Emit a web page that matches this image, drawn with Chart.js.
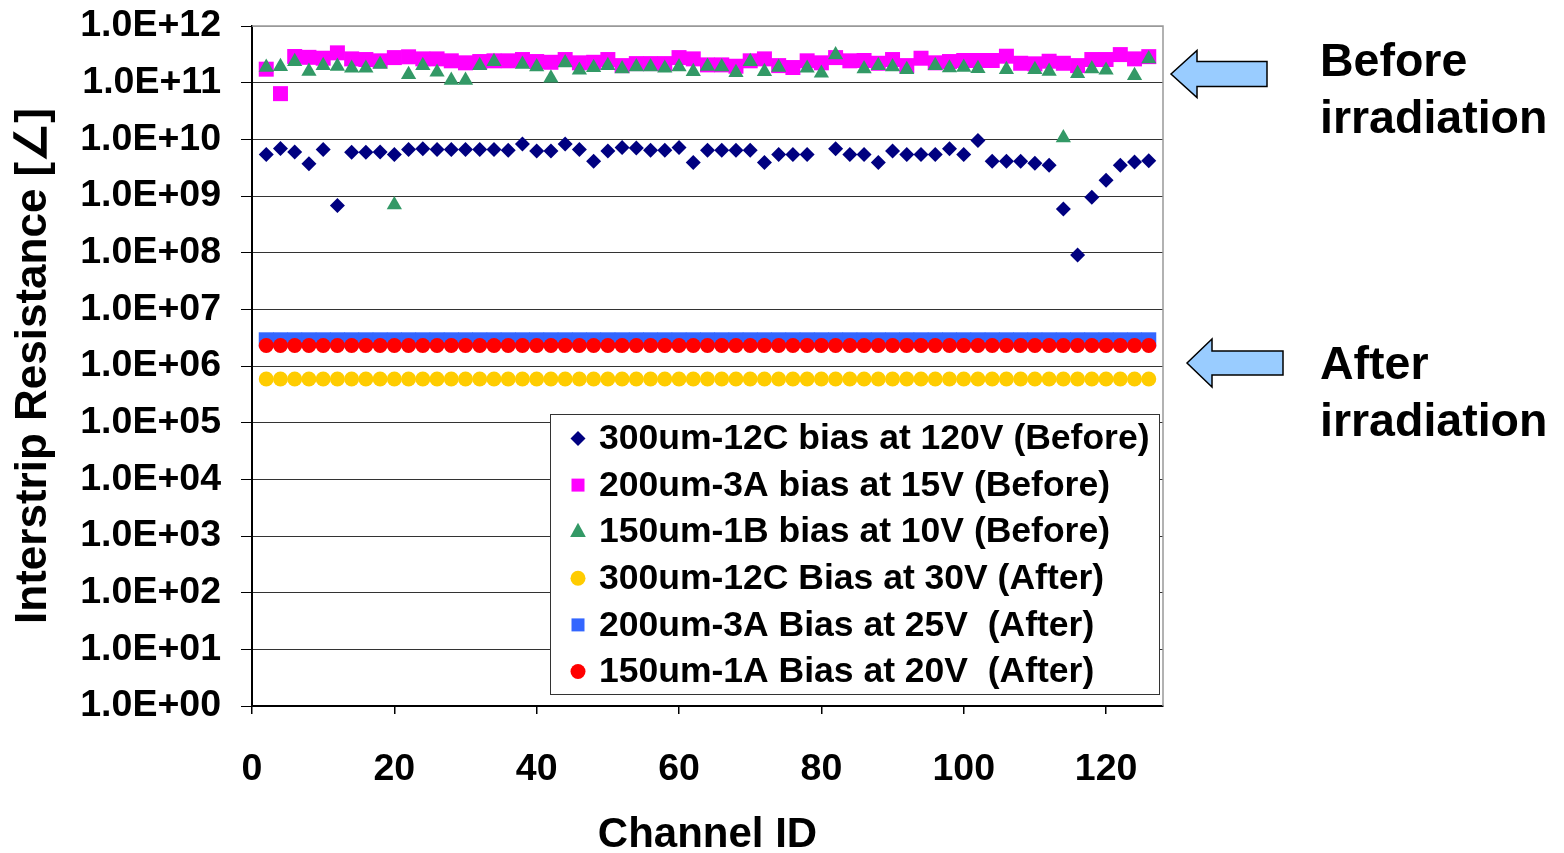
<!DOCTYPE html>
<html>
<head>
<meta charset="utf-8">
<title>Interstrip Resistance</title>
<script src="https://cdn.jsdelivr.net/npm/chart.js@4.4.1/dist/chart.umd.min.js"></script>
<style>
  html, body { margin: 0; padding: 0; background: #fff; }
  #wrap { width: 1564px; height: 853px; }
</style>
</head>
<body>
<div id="wrap"><canvas id="irChart" width="1564" height="853"></canvas></div>
<script>
// Interstrip resistance per channel, before and after irradiation

const channels = [
  2, 4, 6, 8, 10, 12, 14, 16, 18, 20,
  22, 24, 26, 28, 30, 32, 34, 36, 38, 40,
  42, 44, 46, 48, 50, 52, 54, 56, 58, 60,
  62, 64, 66, 68, 70, 72, 74, 76, 78, 80,
  82, 84, 86, 88, 90, 92, 94, 96, 98, 100,
  102, 104, 106, 108, 110, 112, 114, 116, 118, 120,
  122, 124, 126
];

// 300um-12C bias at 120V (Before)
const before300 = [
  5.4e9, 6.9e9, 6.0e9, 3.7e9, 6.6e9, 6.8e8, 5.9e9, 5.9e9, 6.0e9, 5.4e9,
  6.6e9, 6.8e9, 6.6e9, 6.6e9, 6.6e9, 6.6e9, 6.6e9, 6.4e9, 8.3e9, 6.2e9,
  6.2e9, 8.3e9, 6.6e9, 4.1e9, 6.2e9, 7.2e9, 7.0e9, 6.4e9, 6.4e9, 7.2e9,
  3.9e9, 6.4e9, 6.4e9, 6.4e9, 6.4e9, 3.9e9, 5.4e9, 5.4e9, 5.4e9, null,
  6.8e9, 5.4e9, 5.4e9, 3.9e9, 6.2e9, 5.4e9, 5.4e9, 5.4e9, 6.8e9, 5.4e9,
  9.5e9, 4.1e9, 4.1e9, 4.1e9, 3.8e9, 3.5e9, 5.9e8, 9.1e7, 9.5e8, 1.9e9,
  3.5e9, 4.0e9, 4.2e9
];

// 200um-3A bias at 15V (Before)
const before200 = [
  1.73e11, 6.4e10, 2.9e11, 2.8e11, 2.7e11, 3.36e11, 2.63e11, 2.56e11, 2.43e11, 2.77e11,
  2.86e11, 2.63e11, 2.63e11, 2.43e11, 2.24e11, 2.36e11, 2.43e11, 2.43e11, 2.56e11, 2.36e11,
  2.29e11, 2.56e11, 2.24e11, 2.29e11, 2.56e11, 2.0e11, 2.17e11, 2.17e11, 2.17e11, 2.77e11,
  2.63e11, 2.06e11, 2.06e11, 1.95e11, 2.43e11, 2.63e11, 2.0e11, 1.85e11, 2.43e11, 2.24e11,
  2.77e11, 2.43e11, 2.46e11, 2.2e11, 2.56e11, 2.0e11, 2.7e11, 2.24e11, 2.36e11, 2.46e11,
  2.46e11, 2.46e11, 2.93e11, 2.2e11, 2.15e11, 2.39e11, 2.2e11, 2.0e11, 2.56e11, 2.56e11,
  3.13e11, 2.63e11, 2.88e11
];

// 150um-1B bias at 10V (Before)
const before150 = [
  1.87e11, 1.92e11, 2.36e11, 1.59e11, 2.0e11, 1.95e11, 1.8e11, 1.8e11, 2.11e11, 7.0e8,
  1.39e11, 2.0e11, 1.53e11, 1.1e11, 1.1e11, 2.0e11, 2.36e11, null, 2.11e11, 1.9e11,
  1.21e11, 2.24e11, 1.66e11, 1.85e11, 2.0e11, 1.75e11, 1.9e11, 1.9e11, 1.8e11, 1.9e11,
  1.57e11, 1.95e11, 1.9e11, 1.51e11, 2.36e11, 1.57e11, 1.87e11, null, 1.8e11, 1.47e11,
  3.1e11, null, 1.75e11, 2.0e11, 1.9e11, 1.7e11, null, 2.0e11, 1.82e11, 1.87e11,
  1.77e11, null, 1.7e11, null, 1.7e11, 1.59e11, 1.06e10, 1.45e11, 1.75e11, 1.66e11,
  null, 1.33e11, 2.63e11
];

// 300um-12C Bias at 30V (After)
const after300 = [
  5.9e5, 5.9e5, 5.9e5, 5.9e5, 5.9e5, 5.9e5, 5.9e5, 5.9e5, 5.9e5, 5.9e5,
  5.9e5, 5.9e5, 5.9e5, 5.9e5, 5.9e5, 5.9e5, 5.9e5, 5.9e5, 5.9e5, 5.9e5,
  5.9e5, 5.9e5, 5.9e5, 5.9e5, 5.9e5, 5.9e5, 5.9e5, 5.9e5, 5.9e5, 5.9e5,
  5.9e5, 5.9e5, 5.9e5, 5.9e5, 5.9e5, 5.9e5, 5.9e5, 5.9e5, 5.9e5, 5.9e5,
  5.9e5, 5.9e5, 5.9e5, 5.9e5, 5.9e5, 5.9e5, 5.9e5, 5.9e5, 5.9e5, 5.9e5,
  5.9e5, 5.9e5, 5.9e5, 5.9e5, 5.9e5, 5.9e5, 5.9e5, 5.9e5, 5.9e5, 5.9e5,
  5.9e5, 5.9e5, 5.9e5
];

// 200um-3A Bias at 25V (After)
const after200 = [
  2.9e6, 2.9e6, 2.9e6, 2.9e6, 2.9e6, 2.9e6, 2.9e6, 2.9e6, 2.9e6, 2.9e6,
  2.9e6, 2.9e6, 2.9e6, 2.9e6, 2.9e6, 2.9e6, 2.9e6, 2.9e6, 2.9e6, 2.9e6,
  2.9e6, 2.9e6, 2.9e6, 2.9e6, 2.9e6, 2.9e6, 2.9e6, 2.9e6, 2.9e6, 2.9e6,
  2.9e6, 2.9e6, 2.9e6, 2.9e6, 2.9e6, 2.9e6, 2.9e6, 2.9e6, 2.9e6, 2.9e6,
  2.9e6, 2.9e6, 2.9e6, 2.9e6, 2.9e6, 2.9e6, 2.9e6, 2.9e6, 2.9e6, 2.9e6,
  2.9e6, 2.9e6, 2.9e6, 2.9e6, 2.9e6, 2.9e6, 2.9e6, 2.9e6, 2.9e6, 2.9e6,
  2.9e6, 2.9e6, 2.9e6
];

// 150um-1A Bias at 20V (After)
const after150 = [
  2.3e6, 2.3e6, 2.3e6, 2.3e6, 2.3e6, 2.3e6, 2.3e6, 2.3e6, 2.3e6, 2.3e6,
  2.3e6, 2.3e6, 2.3e6, 2.3e6, 2.3e6, 2.3e6, 2.3e6, 2.3e6, 2.3e6, 2.3e6,
  2.3e6, 2.3e6, 2.3e6, 2.3e6, 2.3e6, 2.3e6, 2.3e6, 2.3e6, 2.3e6, 2.3e6,
  2.3e6, 2.3e6, 2.3e6, 2.3e6, 2.3e6, 2.3e6, 2.3e6, 2.3e6, 2.3e6, 2.3e6,
  2.3e6, 2.3e6, 2.3e6, 2.3e6, 2.3e6, 2.3e6, 2.3e6, 2.3e6, 2.3e6, 2.3e6,
  2.3e6, 2.3e6, 2.3e6, 2.3e6, 2.3e6, 2.3e6, 2.3e6, 2.3e6, 2.3e6, 2.3e6,
  2.3e6, 2.3e6, 2.3e6
];

const xTicks = [0, 20, 40, 60, 80, 100, 120];
const yTicks = [1e0, 1e1, 1e2, 1e3, 1e4, 1e5, 1e6, 1e7, 1e8, 1e9, 1e10, 1e11, 1e12];

const seriesLabels = [
  '300um-12C bias at 120V (Before)',
  '200um-3A bias at 15V (Before)',
  '150um-1B bias at 10V (Before)',
  '300um-12C Bias at 30V (After)',
  '200um-3A Bias at 25V  (After)',
  '150um-1A Bias at 20V  (After)'
];
const seriesValues = [before300, before200, before150, after300, after200, after150];
const seriesColors = ['#000080', '#ff00ff', '#339966', '#ffcc00', '#3366ff', '#ff0000'];
const seriesShapes = ['rectRot', 'rect', 'triangle', 'circle', 'rect', 'circle'];
const seriesRadius = [7.5, 10.6, 8.8, 7.5, 10.6, 7.5];

const FONT = "'Liberation Sans', Arial, Helvetica, sans-serif";

function toPoints(values) {
  return channels.map((c, i) => ({ x: c, y: values[i] }));
}

// first series ends up on the bottom, last on top
const datasets = seriesLabels.map((label, i) => ({
  label: label,
  data: toPoints(seriesValues[i]),
  pointStyle: seriesShapes[i],
  pointRadius: seriesRadius[i],
  pointHoverRadius: seriesRadius[i],
  backgroundColor: seriesColors[i],
  borderColor: seriesColors[i],
  borderWidth: 0,
  showLine: false,
  order: seriesLabels.length - i
}));

function expLabel(v) {
  const e = Math.round(Math.log10(v));
  return '1.0E+' + String(e).padStart(2, '0');
}

// small marker for the legend box
function drawMarker(ctx, shape, x, y, r, color) {
  ctx.save();
  ctx.fillStyle = color;
  ctx.beginPath();
  if (shape === 'rectRot') {
    ctx.moveTo(x, y - r); ctx.lineTo(x + r, y); ctx.lineTo(x, y + r); ctx.lineTo(x - r, y);
  } else if (shape === 'rect') {
    ctx.rect(x - r, y - r, 2 * r, 2 * r);
  } else if (shape === 'triangle') {
    ctx.moveTo(x, y - r); ctx.lineTo(x + r * 0.87, y + r * 0.6); ctx.lineTo(x - r * 0.87, y + r * 0.6);
  } else {
    ctx.arc(x, y, r, 0, Math.PI * 2);
  }
  ctx.closePath();
  ctx.fill();
  ctx.restore();
}

function drawArrow(ctx, tipX, tipY, headX, endX, headH, bodyH) {
  ctx.save();
  ctx.beginPath();
  ctx.moveTo(tipX, tipY);
  ctx.lineTo(headX, tipY - headH);
  ctx.lineTo(headX, tipY - bodyH);
  ctx.lineTo(endX, tipY - bodyH);
  ctx.lineTo(endX, tipY + bodyH);
  ctx.lineTo(headX, tipY + bodyH);
  ctx.lineTo(headX, tipY + headH);
  ctx.closePath();
  ctx.fillStyle = '#99ccff';
  ctx.fill();
  ctx.lineWidth = 1.5;
  ctx.strokeStyle = '#000';
  ctx.stroke();
  ctx.restore();
}

const framePlugin = {
  id: 'frame',
  beforeDatasetsDraw(chart) {
    const { ctx, chartArea: a } = chart;
    ctx.save();
    ctx.strokeStyle = '#999';
    ctx.lineWidth = 1.5;
    ctx.beginPath();
    ctx.moveTo(a.left, a.top);
    ctx.lineTo(a.right, a.top);
    ctx.lineTo(a.right, a.bottom);
    ctx.stroke();
    ctx.restore();
  }
};

const legendBoxPlugin = {
  id: 'legendBox',
  afterDatasetsDraw(chart) {
    const ctx = chart.ctx;
    const box = { x: 550, y: 414, w: 609, h: 280 };
    ctx.save();
    ctx.fillStyle = '#fff';
    ctx.fillRect(box.x, box.y, box.w, box.h);
    ctx.strokeStyle = '#333';
    ctx.lineWidth = 1;
    ctx.strokeRect(box.x + 0.5, box.y + 0.5, box.w, box.h);
    ctx.font = 'bold 35.5px ' + FONT;
    ctx.fillStyle = '#000';
    ctx.textBaseline = 'middle';
    ctx.textAlign = 'left';
    const rowH = 46.6;
    seriesLabels.forEach((label, i) => {
      const y = box.y + 24.5 + i * rowH;
      const shape = seriesShapes[i];
      const r = shape === 'rect' ? 6.5 : (shape === 'triangle' ? 9 : 7.5);
      drawMarker(ctx, shape, 578, y, r, seriesColors[i]);
      ctx.fillText(label, 599, y + 1);
    });
    ctx.restore();
  }
};

const notesPlugin = {
  id: 'notes',
  afterDraw(chart) {
    const ctx = chart.ctx;
    drawArrow(ctx, 1171, 74, 1197, 1267, 23.5, 12.5);
    drawArrow(ctx, 1187, 363, 1212, 1283, 24, 12);
    ctx.save();
    ctx.fillStyle = '#000';
    ctx.font = 'bold 46.5px ' + FONT;
    ctx.textAlign = 'left';
    ctx.textBaseline = 'alphabetic';
    ctx.fillText('Before', 1320, 76);
    ctx.fillText('irradiation', 1320, 133);
    ctx.fillText('After', 1320, 379);
    ctx.fillText('irradiation', 1320, 436);
    ctx.restore();
  }
};

Chart.defaults.font.family = FONT;
Chart.defaults.color = '#000';

new Chart(document.getElementById('irChart'), {
  type: 'scatter',
  data: { datasets: datasets },
  options: {
    responsive: false,
    animation: false,
    layout: { padding: { top: 26, right: 401, left: 0, bottom: 0 } },
    plugins: {
      legend: { display: false },
      tooltip: { enabled: false }
    },
    scales: {
      x: {
        type: 'linear',
        min: 0,
        max: 128,
        afterBuildTicks: scale => { scale.ticks = xTicks.map(v => ({ value: v })); },
        afterFit: scale => { scale.height = 147; scale.paddingLeft = 0; scale.paddingRight = 0; },
        grid: { drawOnChartArea: false, drawTicks: true, tickLength: 8, tickColor: '#000', lineWidth: 1.5 },
        border: { color: '#000', width: 2 },
        ticks: {
          padding: 33,
          maxRotation: 0,
          autoSkip: false,
          font: { size: 37.5, weight: 'bold' }
        },
        title: {
          display: true,
          text: 'Channel ID',
          font: { size: 42, weight: 'bold', lineHeight: 0.85 },
          padding: { top: 0, bottom: 0 }
        }
      },
      y: {
        type: 'logarithmic',
        min: 1,
        max: 1e12,
        afterBuildTicks: scale => { scale.ticks = yTicks.map(v => ({ value: v })); },
        afterFit: scale => { scale.width = 252; scale.paddingTop = 0; scale.paddingBottom = 0; },
        grid: {
          color: ctx => (ctx.tick && ctx.tick.value === 1e12 ? '#999' : '#333'),
          lineWidth: 1,
          tickLength: 11,
          tickColor: '#000'
        },
        border: { color: '#000', width: 2 },
        ticks: {
          padding: 20,
          autoSkip: false,
          callback: v => expLabel(v),
          font: { size: 37.5, weight: 'bold' }
        },
        title: {
          display: true,
          text: 'Interstrip Resistance [\u2220]',
          font: { size: 44, weight: 'bold', lineHeight: 1.2 },
          padding: { top: 7, bottom: 0 }
        }
      }
    }
  },
  plugins: [framePlugin, legendBoxPlugin, notesPlugin]
});
</script>
</body>
</html>
